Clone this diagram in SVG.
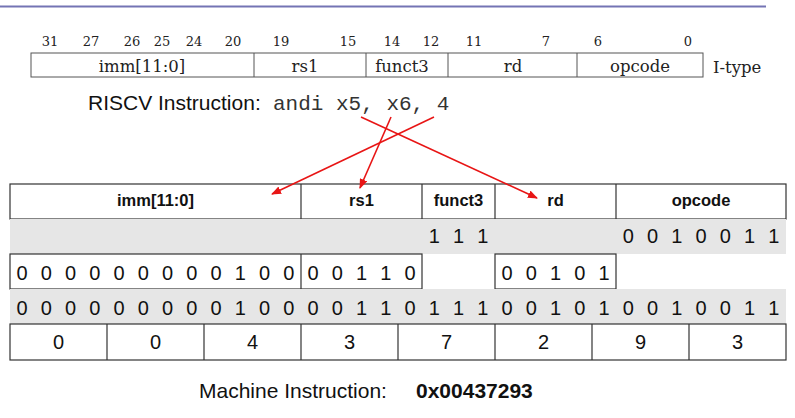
<svg xmlns="http://www.w3.org/2000/svg" width="795" height="418" viewBox="0 0 795 418">
<style>
.serifnum{font-family:"DejaVu Serif","Liberation Serif",serif;font-size:13px;fill:#222;text-anchor:middle}
.seriflab{font-family:"DejaVu Serif","Liberation Serif",serif;font-size:16.5px;fill:#222;text-anchor:middle}
.hdr{font-family:"Liberation Sans",Arial,sans-serif;font-size:16.5px;font-weight:bold;fill:#111;text-anchor:middle}
.bit{font-family:"Liberation Sans",Arial,sans-serif;font-size:20px;fill:#111;text-anchor:middle}
.big{font-family:"Liberation Sans",Arial,sans-serif;font-size:21px;fill:#111}
.mono{font-family:"Liberation Mono","Courier New",monospace;font-size:21px;fill:#333}
.cell{fill:#fff;stroke:#333;stroke-width:1.2}
.tline{stroke:#333;stroke-width:1.2}
.grey{fill:#e6e6e6}
.arrow{stroke:#e81515;stroke-width:1.6;fill:none;marker-end:url(#ah)}
</style>
<defs>
<marker id="ah" markerUnits="userSpaceOnUse" markerWidth="10" markerHeight="8" refX="9" refY="4" orient="auto">
<path d="M0,0 L10,4 L0,8 Z" fill="#e81515"/>
</marker>
</defs>
<rect width="795" height="418" fill="#fff"/>
<line x1="0" y1="6.5" x2="766" y2="6.5" stroke="#7474b4" stroke-width="2"/>

<g id="itype-format">
<g>
<text class="serifnum" x="50" y="46">31</text>
<text class="serifnum" x="91" y="46">27</text>
<text class="serifnum" x="132" y="46">26</text>
<text class="serifnum" x="162" y="46">25</text>
<text class="serifnum" x="194" y="46">24</text>
<text class="serifnum" x="233" y="46">20</text>
<text class="serifnum" x="281" y="46">19</text>
<text class="serifnum" x="348" y="46">15</text>
<text class="serifnum" x="392" y="46">14</text>
<text class="serifnum" x="431" y="46">12</text>
<text class="serifnum" x="474" y="46">11</text>
<text class="serifnum" x="546" y="46">7</text>
<text class="serifnum" x="598" y="46">6</text>
<text class="serifnum" x="688" y="46">0</text>
</g>
<rect x="31" y="53" width="672" height="24" fill="#fff" stroke="#555" stroke-width="1"/>
<g stroke="#555" stroke-width="1">
<line x1="254" y1="53" x2="254" y2="77"/>
<line x1="366" y1="53" x2="366" y2="77"/>
<line x1="448" y1="53" x2="448" y2="77"/>
<line x1="577" y1="53" x2="577" y2="77"/>
</g>
<text class="seriflab" x="142" y="72">imm[11:0]</text>
<text class="seriflab" x="305" y="72">rs1</text>
<text class="seriflab" x="402" y="72">funct3</text>
<text class="seriflab" x="513" y="72">rd</text>
<text class="seriflab" x="640" y="72">opcode</text>
<text class="seriflab" x="713" y="73" style="text-anchor:start">I-type</text>
</g>

<g id="riscv-instruction">
<text x="88" y="110"><tspan class="big">RISCV Instruction: </tspan><tspan class="mono" x="273">andi x5, x6, 4</tspan></text>
</g>

<g id="header-row">
<rect class="cell" x="10" y="184" width="776" height="35"/>
<line class="tline" x1="301" y1="184" x2="301" y2="219"/>
<line class="tline" x1="422" y1="184" x2="422" y2="219"/>
<line class="tline" x1="495" y1="184" x2="495" y2="219"/>
<line class="tline" x1="616" y1="184" x2="616" y2="219"/>
<text class="hdr" x="155.5" y="206">imm[11:0]</text>
<text class="hdr" x="361.5" y="206">rs1</text>
<text class="hdr" x="458.5" y="206">funct3</text>
<text class="hdr" x="555.5" y="206">rd</text>
<text class="hdr" x="701" y="206">opcode</text>
</g>

<g id="fixed-bits-row">
<rect class="grey" x="10" y="219" width="776" height="35"/>
<text class="bit" x="434.4 458.6 482.9" y="243">111</text>
<text class="bit" x="628.4 652.6 676.9 701.1 725.4 749.6 773.9" y="243">0010011</text>
</g>

<g id="operand-bits-row">
<rect class="cell" x="10" y="254" width="412" height="35"/>
<line class="tline" x1="301" y1="254" x2="301" y2="289"/>
<rect class="cell" x="495" y="254" width="121" height="35"/>
<text class="bit" x="22.1 46.4 70.6 94.9 119.1 143.4 167.6 191.9 216.1 240.4 264.6 288.9 313.1 337.4 361.6 385.9 410.1" y="280">00000000010000110</text>
<text class="bit" x="507.1 531.4 555.6 579.9 604.1" y="280">00101</text>
</g>

<g id="binary-row">
<rect class="grey" x="10" y="289" width="776" height="35"/>
<text class="bit" x="22.1 46.4 70.6 94.9 119.1 143.4 167.6 191.9 216.1 240.4 264.6 288.9 313.1 337.4 361.6 385.9 410.1 434.4 458.6 482.9 507.1 531.4 555.6 579.9 604.1 628.4 652.6 676.9 701.1 725.4 749.6 773.9" y="315">00000000010000110111001010010011</text>
</g>

<g id="hex-row">
<rect class="cell" x="10" y="324" width="776" height="36"/>
<line class="tline" x1="107" y1="324" x2="107" y2="360"/>
<line class="tline" x1="204" y1="324" x2="204" y2="360"/>
<line class="tline" x1="301" y1="324" x2="301" y2="360"/>
<line class="tline" x1="398" y1="324" x2="398" y2="360"/>
<line class="tline" x1="495" y1="324" x2="495" y2="360"/>
<line class="tline" x1="592" y1="324" x2="592" y2="360"/>
<line class="tline" x1="689" y1="324" x2="689" y2="360"/>
<text class="bit" x="58.5 155.5 252.5 349.5 446.5 543.5 640.5 737.5" y="349">00437293</text>
</g>

<g id="machine-instruction">
<text class="big" x="199" y="398">Machine Instruction:</text>
<text class="big" x="416" y="398" font-weight="bold">0x00437293</text>
</g>

<g id="connectors">
<line class="arrow" x1="361" y1="117" x2="537" y2="198"/>
<line class="arrow" x1="391" y1="117" x2="360" y2="188"/>
<line class="arrow" x1="434" y1="117" x2="272" y2="194"/>
</g>
</svg>
